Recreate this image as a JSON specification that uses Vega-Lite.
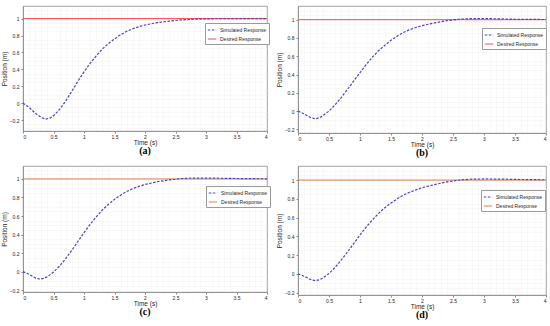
{
  "$schema": "https://vega.github.io/schema/vega-lite/v6.json",
  "autosize": "pad",
  "padding": {"left": 0, "top": 5, "right": 5, "bottom": 0},
  "background": "white",
  "config": {
    "font": "Liberation Sans",
    "view": {"stroke": "#8a8a8a", "strokeWidth": 0.8},
    "axis": {
      "labelFontSize": 5,
      "labelColor": "#262626",
      "titleFontSize": 6.5,
      "titleFontWeight": "normal",
      "titleColor": "#262626",
      "domainColor": "#8a8a8a",
      "domainWidth": 0.8,
      "tickColor": "#8a8a8a",
      "tickSize": 2,
      "gridColor": "#d6d6d6",
      "gridWidth": 0.6
    },
    "legend": {
      "orient": "none",
      "fillColor": "white",
      "strokeColor": "#9a9a9a",
      "padding": 2,
      "labelFontSize": 5,
      "labelColor": "#262626",
      "symbolType": "stroke",
      "symbolSize": 70,
      "symbolStrokeWidth": 1,
      "rowPadding": 1,
      "labelOffset": 3,
      "title": null
    },
    "title": {"font": "Liberation Serif", "fontSize": 10, "fontWeight": "bold", "color": "#000000"}
  },
  "data": {
    "values": [
      {"panel": "a", "series": "Desired Response", "t": 0, "y": 1},
      {"panel": "a", "series": "Desired Response", "t": 4, "y": 1},
      {"panel": "b", "series": "Desired Response", "t": 0, "y": 1},
      {"panel": "b", "series": "Desired Response", "t": 4, "y": 1},
      {"panel": "c", "series": "Desired Response", "t": 0, "y": 1},
      {"panel": "c", "series": "Desired Response", "t": 4, "y": 1},
      {"panel": "d", "series": "Desired Response", "t": 0, "y": 1},
      {"panel": "d", "series": "Desired Response", "t": 4, "y": 1},

      {"panel": "a", "series": "Simulated Response", "t": 0, "y": 0},
      {"panel": "a", "series": "Simulated Response", "t": 0.1, "y": -0.05},
      {"panel": "a", "series": "Simulated Response", "t": 0.2, "y": -0.12},
      {"panel": "a", "series": "Simulated Response", "t": 0.3, "y": -0.17},
      {"panel": "a", "series": "Simulated Response", "t": 0.37, "y": -0.19},
      {"panel": "a", "series": "Simulated Response", "t": 0.45, "y": -0.175},
      {"panel": "a", "series": "Simulated Response", "t": 0.5, "y": -0.15},
      {"panel": "a", "series": "Simulated Response", "t": 0.6, "y": -0.075},
      {"panel": "a", "series": "Simulated Response", "t": 0.7, "y": 0.025},
      {"panel": "a", "series": "Simulated Response", "t": 0.8, "y": 0.14},
      {"panel": "a", "series": "Simulated Response", "t": 0.9, "y": 0.26},
      {"panel": "a", "series": "Simulated Response", "t": 1.0, "y": 0.37},
      {"panel": "a", "series": "Simulated Response", "t": 1.1, "y": 0.47},
      {"panel": "a", "series": "Simulated Response", "t": 1.2, "y": 0.56},
      {"panel": "a", "series": "Simulated Response", "t": 1.3, "y": 0.64},
      {"panel": "a", "series": "Simulated Response", "t": 1.4, "y": 0.705},
      {"panel": "a", "series": "Simulated Response", "t": 1.5, "y": 0.76},
      {"panel": "a", "series": "Simulated Response", "t": 1.6, "y": 0.81},
      {"panel": "a", "series": "Simulated Response", "t": 1.7, "y": 0.85},
      {"panel": "a", "series": "Simulated Response", "t": 1.8, "y": 0.88},
      {"panel": "a", "series": "Simulated Response", "t": 1.9, "y": 0.905},
      {"panel": "a", "series": "Simulated Response", "t": 2.0, "y": 0.925},
      {"panel": "a", "series": "Simulated Response", "t": 2.2, "y": 0.953},
      {"panel": "a", "series": "Simulated Response", "t": 2.4, "y": 0.972},
      {"panel": "a", "series": "Simulated Response", "t": 2.6, "y": 0.985},
      {"panel": "a", "series": "Simulated Response", "t": 2.8, "y": 0.993},
      {"panel": "a", "series": "Simulated Response", "t": 3.0, "y": 0.998},
      {"panel": "a", "series": "Simulated Response", "t": 3.3, "y": 1.0},
      {"panel": "a", "series": "Simulated Response", "t": 3.6, "y": 1.0},
      {"panel": "a", "series": "Simulated Response", "t": 4.0, "y": 1.0},

      {"panel": "b", "series": "Simulated Response", "t": 0, "y": 0},
      {"panel": "b", "series": "Simulated Response", "t": 0.1, "y": -0.03},
      {"panel": "b", "series": "Simulated Response", "t": 0.2, "y": -0.07},
      {"panel": "b", "series": "Simulated Response", "t": 0.28, "y": -0.085},
      {"panel": "b", "series": "Simulated Response", "t": 0.35, "y": -0.072},
      {"panel": "b", "series": "Simulated Response", "t": 0.4, "y": -0.05},
      {"panel": "b", "series": "Simulated Response", "t": 0.5, "y": 0.0},
      {"panel": "b", "series": "Simulated Response", "t": 0.6, "y": 0.07},
      {"panel": "b", "series": "Simulated Response", "t": 0.7, "y": 0.15},
      {"panel": "b", "series": "Simulated Response", "t": 0.8, "y": 0.24},
      {"panel": "b", "series": "Simulated Response", "t": 0.9, "y": 0.33},
      {"panel": "b", "series": "Simulated Response", "t": 1.0, "y": 0.42},
      {"panel": "b", "series": "Simulated Response", "t": 1.1, "y": 0.51},
      {"panel": "b", "series": "Simulated Response", "t": 1.2, "y": 0.59},
      {"panel": "b", "series": "Simulated Response", "t": 1.3, "y": 0.66},
      {"panel": "b", "series": "Simulated Response", "t": 1.4, "y": 0.72},
      {"panel": "b", "series": "Simulated Response", "t": 1.5, "y": 0.775},
      {"panel": "b", "series": "Simulated Response", "t": 1.6, "y": 0.82},
      {"panel": "b", "series": "Simulated Response", "t": 1.7, "y": 0.86},
      {"panel": "b", "series": "Simulated Response", "t": 1.8, "y": 0.89},
      {"panel": "b", "series": "Simulated Response", "t": 1.9, "y": 0.915},
      {"panel": "b", "series": "Simulated Response", "t": 2.0, "y": 0.935},
      {"panel": "b", "series": "Simulated Response", "t": 2.2, "y": 0.965},
      {"panel": "b", "series": "Simulated Response", "t": 2.4, "y": 0.99},
      {"panel": "b", "series": "Simulated Response", "t": 2.6, "y": 1.005},
      {"panel": "b", "series": "Simulated Response", "t": 2.8, "y": 1.012},
      {"panel": "b", "series": "Simulated Response", "t": 3.0, "y": 1.013},
      {"panel": "b", "series": "Simulated Response", "t": 3.2, "y": 1.01},
      {"panel": "b", "series": "Simulated Response", "t": 3.5, "y": 1.005},
      {"panel": "b", "series": "Simulated Response", "t": 4.0, "y": 1.002},

      {"panel": "c", "series": "Simulated Response", "t": 0, "y": 0},
      {"panel": "c", "series": "Simulated Response", "t": 0.1, "y": -0.03},
      {"panel": "c", "series": "Simulated Response", "t": 0.2, "y": -0.068},
      {"panel": "c", "series": "Simulated Response", "t": 0.28, "y": -0.082},
      {"panel": "c", "series": "Simulated Response", "t": 0.35, "y": -0.072},
      {"panel": "c", "series": "Simulated Response", "t": 0.4, "y": -0.055},
      {"panel": "c", "series": "Simulated Response", "t": 0.5, "y": -0.005},
      {"panel": "c", "series": "Simulated Response", "t": 0.6, "y": 0.06},
      {"panel": "c", "series": "Simulated Response", "t": 0.7, "y": 0.14},
      {"panel": "c", "series": "Simulated Response", "t": 0.8, "y": 0.23},
      {"panel": "c", "series": "Simulated Response", "t": 0.9, "y": 0.325},
      {"panel": "c", "series": "Simulated Response", "t": 1.0, "y": 0.42},
      {"panel": "c", "series": "Simulated Response", "t": 1.1, "y": 0.51},
      {"panel": "c", "series": "Simulated Response", "t": 1.2, "y": 0.59},
      {"panel": "c", "series": "Simulated Response", "t": 1.3, "y": 0.665},
      {"panel": "c", "series": "Simulated Response", "t": 1.4, "y": 0.725},
      {"panel": "c", "series": "Simulated Response", "t": 1.5, "y": 0.78},
      {"panel": "c", "series": "Simulated Response", "t": 1.6, "y": 0.825},
      {"panel": "c", "series": "Simulated Response", "t": 1.7, "y": 0.865},
      {"panel": "c", "series": "Simulated Response", "t": 1.8, "y": 0.895},
      {"panel": "c", "series": "Simulated Response", "t": 1.9, "y": 0.92},
      {"panel": "c", "series": "Simulated Response", "t": 2.0, "y": 0.94},
      {"panel": "c", "series": "Simulated Response", "t": 2.2, "y": 0.97},
      {"panel": "c", "series": "Simulated Response", "t": 2.4, "y": 0.99},
      {"panel": "c", "series": "Simulated Response", "t": 2.6, "y": 1.005},
      {"panel": "c", "series": "Simulated Response", "t": 2.8, "y": 1.01},
      {"panel": "c", "series": "Simulated Response", "t": 3.0, "y": 1.01},
      {"panel": "c", "series": "Simulated Response", "t": 3.3, "y": 1.007},
      {"panel": "c", "series": "Simulated Response", "t": 3.6, "y": 1.004},
      {"panel": "c", "series": "Simulated Response", "t": 4.0, "y": 1.002},

      {"panel": "d", "series": "Simulated Response", "t": 0, "y": 0},
      {"panel": "d", "series": "Simulated Response", "t": 0.1, "y": -0.025},
      {"panel": "d", "series": "Simulated Response", "t": 0.2, "y": -0.06},
      {"panel": "d", "series": "Simulated Response", "t": 0.28, "y": -0.072},
      {"panel": "d", "series": "Simulated Response", "t": 0.35, "y": -0.062},
      {"panel": "d", "series": "Simulated Response", "t": 0.4, "y": -0.045},
      {"panel": "d", "series": "Simulated Response", "t": 0.5, "y": 0.005},
      {"panel": "d", "series": "Simulated Response", "t": 0.6, "y": 0.07},
      {"panel": "d", "series": "Simulated Response", "t": 0.7, "y": 0.15},
      {"panel": "d", "series": "Simulated Response", "t": 0.8, "y": 0.235},
      {"panel": "d", "series": "Simulated Response", "t": 0.9, "y": 0.325},
      {"panel": "d", "series": "Simulated Response", "t": 1.0, "y": 0.415},
      {"panel": "d", "series": "Simulated Response", "t": 1.1, "y": 0.5},
      {"panel": "d", "series": "Simulated Response", "t": 1.2, "y": 0.575},
      {"panel": "d", "series": "Simulated Response", "t": 1.3, "y": 0.645},
      {"panel": "d", "series": "Simulated Response", "t": 1.4, "y": 0.705},
      {"panel": "d", "series": "Simulated Response", "t": 1.5, "y": 0.755},
      {"panel": "d", "series": "Simulated Response", "t": 1.6, "y": 0.8},
      {"panel": "d", "series": "Simulated Response", "t": 1.7, "y": 0.84},
      {"panel": "d", "series": "Simulated Response", "t": 1.8, "y": 0.87},
      {"panel": "d", "series": "Simulated Response", "t": 1.9, "y": 0.895},
      {"panel": "d", "series": "Simulated Response", "t": 2.0, "y": 0.918},
      {"panel": "d", "series": "Simulated Response", "t": 2.2, "y": 0.952},
      {"panel": "d", "series": "Simulated Response", "t": 2.4, "y": 0.98},
      {"panel": "d", "series": "Simulated Response", "t": 2.6, "y": 1.0},
      {"panel": "d", "series": "Simulated Response", "t": 2.8, "y": 1.01},
      {"panel": "d", "series": "Simulated Response", "t": 3.0, "y": 1.012},
      {"panel": "d", "series": "Simulated Response", "t": 3.3, "y": 1.01},
      {"panel": "d", "series": "Simulated Response", "t": 3.6, "y": 1.006},
      {"panel": "d", "series": "Simulated Response", "t": 4.0, "y": 1.003}
    ]
  },
  "spacing": 7,
  "vconcat": [
    {
      "bounds": "flush",
      "spacing": 31,
      "resolve": {"scale": {"color": "independent", "strokeDash": "independent", "x": "independent", "y": "independent"}, "legend": {"color": "independent", "strokeDash": "independent"}},
      "hconcat": [
        {
          "width": 244, "height": 125,
          "title": {"text": "(a)", "orient": "bottom", "offset": 0},
          "transform": [{"filter": "datum.panel == 'a'"}],
          "resolve": {"axis": {"x": "independent", "y": "independent"}},
          "layer": [
            {
              "transform": [{"filter": "datum.series == 'Desired Response'"}],
              "mark": {"type": "line", "strokeWidth": 1},
              "encoding": {
                "x": {"field": "t", "type": "quantitative", "scale": {"domain": [0, 4], "nice": false},
                      "axis": {"orient": "top", "values": [0.1,0.2,0.3,0.4,0.6,0.7,0.8,0.9,1.1,1.2,1.3,1.4,1.6,1.7,1.8,1.9,2.1,2.2,2.3,2.4,2.6,2.7,2.8,2.9,3.1,3.2,3.3,3.4,3.6,3.7,3.8,3.9], "labels": false, "ticks": false, "domain": false, "title": null, "gridColor": "#e6e6e6", "gridDash": [1, 1], "gridWidth": 0.5}},
                "y": {"field": "y", "type": "quantitative", "scale": {"domain": [-0.33, 1.15], "nice": false, "zero": false},
                      "axis": {"orient": "right", "values": [-0.3,-0.25,-0.15,-0.1,-0.05,0.05,0.1,0.15,0.25,0.3,0.35,0.45,0.5,0.55,0.65,0.7,0.75,0.85,0.9,0.95,1.05,1.1], "labels": false, "ticks": false, "domain": false, "title": null, "gridColor": "#e6e6e6", "gridDash": [1, 1], "gridWidth": 0.5}},
                "color": {"field": "series", "type": "nominal", "scale": {"domain": ["Simulated Response", "Desired Response"], "range": ["#4343d0", "#ff3a3a"]}, "legend": {"legendX": 182, "legendY": 17}},
                "strokeDash": {"field": "series", "type": "nominal", "scale": {"domain": ["Simulated Response", "Desired Response"], "range": [[2.5, 1.5], [1, 0]]}, "legend": {"legendX": 182, "legendY": 17}}
              }
            },
            {
              "transform": [{"filter": "datum.series == 'Simulated Response'"}],
              "mark": {"type": "line", "strokeWidth": 1.2},
              "encoding": {
                "x": {"field": "t", "type": "quantitative", "scale": {"domain": [0, 4], "nice": false},
                      "axis": {"title": "Time (s)", "values": [0,0.5,1,1.5,2,2.5,3,3.5,4], "format": "~g", "labelPadding": 1, "titlePadding": 0}},
                "y": {"field": "y", "type": "quantitative", "scale": {"domain": [-0.33, 1.15], "nice": false, "zero": false},
                      "axis": {"title": "Position (m)", "values": [-0.2,0,0.2,0.4,0.6,0.8,1], "format": "~g", "labelPadding": 2, "titlePadding": 2}},
                "color": {"field": "series", "type": "nominal", "scale": {"domain": ["Simulated Response", "Desired Response"], "range": ["#4343d0", "#ff3a3a"]}, "legend": {"legendX": 182, "legendY": 17}},
                "strokeDash": {"field": "series", "type": "nominal", "scale": {"domain": ["Simulated Response", "Desired Response"], "range": [[2.5, 1.5], [1, 0]]}, "legend": {"legendX": 182, "legendY": 17}}
              }
            }
          ]
        },
        {
          "width": 248, "height": 127,
          "title": {"text": "(b)", "orient": "bottom", "offset": 0},
          "transform": [{"filter": "datum.panel == 'b'"}],
          "resolve": {"axis": {"x": "independent", "y": "independent"}},
          "layer": [
            {
              "transform": [{"filter": "datum.series == 'Desired Response'"}],
              "mark": {"type": "line", "strokeWidth": 1},
              "encoding": {
                "x": {"field": "t", "type": "quantitative", "scale": {"domain": [0, 4], "nice": false},
                      "axis": {"orient": "top", "values": [0.1,0.2,0.3,0.4,0.6,0.7,0.8,0.9,1.1,1.2,1.3,1.4,1.6,1.7,1.8,1.9,2.1,2.2,2.3,2.4,2.6,2.7,2.8,2.9,3.1,3.2,3.3,3.4,3.6,3.7,3.8,3.9], "labels": false, "ticks": false, "domain": false, "title": null, "gridColor": "#e6e6e6", "gridDash": [1, 1], "gridWidth": 0.5}},
                "y": {"field": "y", "type": "quantitative", "scale": {"domain": [-0.24, 1.15], "nice": false, "zero": false},
                      "axis": {"orient": "right", "values": [-0.15,-0.1,-0.05,0.05,0.1,0.15,0.25,0.3,0.35,0.45,0.5,0.55,0.65,0.7,0.75,0.85,0.9,0.95,1.05,1.1], "labels": false, "ticks": false, "domain": false, "title": null, "gridColor": "#e6e6e6", "gridDash": [1, 1], "gridWidth": 0.5}},
                "color": {"field": "series", "type": "nominal", "scale": {"domain": ["Simulated Response", "Desired Response"], "range": ["#4343d0", "#ff3d66"]}, "legend": {"legendX": 184, "legendY": 22}},
                "strokeDash": {"field": "series", "type": "nominal", "scale": {"domain": ["Simulated Response", "Desired Response"], "range": [[2.5, 1.5], [1, 0]]}, "legend": {"legendX": 184, "legendY": 22}}
              }
            },
            {
              "transform": [{"filter": "datum.series == 'Simulated Response'"}],
              "mark": {"type": "line", "strokeWidth": 1.2},
              "encoding": {
                "x": {"field": "t", "type": "quantitative", "scale": {"domain": [0, 4], "nice": false},
                      "axis": {"title": "Time (s)", "values": [0,0.5,1,1.5,2,2.5,3,3.5,4], "format": "~g", "labelPadding": 1, "titlePadding": 0}},
                "y": {"field": "y", "type": "quantitative", "scale": {"domain": [-0.24, 1.15], "nice": false, "zero": false},
                      "axis": {"title": "Position (m)", "values": [-0.2,0,0.2,0.4,0.6,0.8,1], "format": "~g", "labelPadding": 2, "titlePadding": 2}},
                "color": {"field": "series", "type": "nominal", "scale": {"domain": ["Simulated Response", "Desired Response"], "range": ["#4343d0", "#ff3d66"]}, "legend": {"legendX": 184, "legendY": 22}},
                "strokeDash": {"field": "series", "type": "nominal", "scale": {"domain": ["Simulated Response", "Desired Response"], "range": [[2.5, 1.5], [1, 0]]}, "legend": {"legendX": 184, "legendY": 22}}
              }
            }
          ]
        }
      ]
    },
    {
      "bounds": "flush",
      "spacing": 31,
      "resolve": {"scale": {"color": "independent", "strokeDash": "independent", "x": "independent", "y": "independent"}, "legend": {"color": "independent", "strokeDash": "independent"}},
      "hconcat": [
        {
          "width": 244, "height": 126,
          "title": {"text": "(c)", "orient": "bottom", "offset": 0},
          "transform": [{"filter": "datum.panel == 'c'"}],
          "resolve": {"axis": {"x": "independent", "y": "independent"}},
          "layer": [
            {
              "transform": [{"filter": "datum.series == 'Desired Response'"}],
              "mark": {"type": "line", "strokeWidth": 1},
              "encoding": {
                "x": {"field": "t", "type": "quantitative", "scale": {"domain": [0, 4], "nice": false},
                      "axis": {"orient": "top", "values": [0.1,0.2,0.3,0.4,0.6,0.7,0.8,0.9,1.1,1.2,1.3,1.4,1.6,1.7,1.8,1.9,2.1,2.2,2.3,2.4,2.6,2.7,2.8,2.9,3.1,3.2,3.3,3.4,3.6,3.7,3.8,3.9], "labels": false, "ticks": false, "domain": false, "title": null, "gridColor": "#e6e6e6", "gridDash": [1, 1], "gridWidth": 0.5}},
                "y": {"field": "y", "type": "quantitative", "scale": {"domain": [-0.22, 1.14], "nice": false, "zero": false},
                      "axis": {"orient": "right", "values": [-0.15,-0.1,-0.05,0.05,0.1,0.15,0.25,0.3,0.35,0.45,0.5,0.55,0.65,0.7,0.75,0.85,0.9,0.95,1.05,1.1], "labels": false, "ticks": false, "domain": false, "title": null, "gridColor": "#e6e6e6", "gridDash": [1, 1], "gridWidth": 0.5}},
                "color": {"field": "series", "type": "nominal", "scale": {"domain": ["Simulated Response", "Desired Response"], "range": ["#4343d0", "#d9773f"]}, "legend": {"legendX": 183, "legendY": 20}},
                "strokeDash": {"field": "series", "type": "nominal", "scale": {"domain": ["Simulated Response", "Desired Response"], "range": [[2.5, 1.5], [1, 0]]}, "legend": {"legendX": 183, "legendY": 20}}
              }
            },
            {
              "transform": [{"filter": "datum.series == 'Simulated Response'"}],
              "mark": {"type": "line", "strokeWidth": 1.2},
              "encoding": {
                "x": {"field": "t", "type": "quantitative", "scale": {"domain": [0, 4], "nice": false},
                      "axis": {"title": "Time (s)", "values": [0,0.5,1,1.5,2,2.5,3,3.5,4], "format": "~g", "labelPadding": 1, "titlePadding": 0}},
                "y": {"field": "y", "type": "quantitative", "scale": {"domain": [-0.22, 1.14], "nice": false, "zero": false},
                      "axis": {"title": "Position (m)", "values": [-0.2,0,0.2,0.4,0.6,0.8,1], "format": "~g", "labelPadding": 2, "titlePadding": 2}},
                "color": {"field": "series", "type": "nominal", "scale": {"domain": ["Simulated Response", "Desired Response"], "range": ["#4343d0", "#d9773f"]}, "legend": {"legendX": 183, "legendY": 20}},
                "strokeDash": {"field": "series", "type": "nominal", "scale": {"domain": ["Simulated Response", "Desired Response"], "range": [[2.5, 1.5], [1, 0]]}, "legend": {"legendX": 183, "legendY": 20}}
              }
            }
          ]
        },
        {
          "width": 248, "height": 129,
          "title": {"text": "(d)", "orient": "bottom", "offset": 0},
          "transform": [{"filter": "datum.panel == 'd'"}],
          "resolve": {"axis": {"x": "independent", "y": "independent"}},
          "layer": [
            {
              "transform": [{"filter": "datum.series == 'Desired Response'"}],
              "mark": {"type": "line", "strokeWidth": 1},
              "encoding": {
                "x": {"field": "t", "type": "quantitative", "scale": {"domain": [0, 4], "nice": false},
                      "axis": {"orient": "top", "values": [0.1,0.2,0.3,0.4,0.6,0.7,0.8,0.9,1.1,1.2,1.3,1.4,1.6,1.7,1.8,1.9,2.1,2.2,2.3,2.4,2.6,2.7,2.8,2.9,3.1,3.2,3.3,3.4,3.6,3.7,3.8,3.9], "labels": false, "ticks": false, "domain": false, "title": null, "gridColor": "#e6e6e6", "gridDash": [1, 1], "gridWidth": 0.5}},
                "y": {"field": "y", "type": "quantitative", "scale": {"domain": [-0.225, 1.15], "nice": false, "zero": false},
                      "axis": {"orient": "right", "values": [-0.15,-0.1,-0.05,0.05,0.1,0.15,0.25,0.3,0.35,0.45,0.5,0.55,0.65,0.7,0.75,0.85,0.9,0.95,1.05,1.1], "labels": false, "ticks": false, "domain": false, "title": null, "gridColor": "#e6e6e6", "gridDash": [1, 1], "gridWidth": 0.5}},
                "color": {"field": "series", "type": "nominal", "scale": {"domain": ["Simulated Response", "Desired Response"], "range": ["#4343d0", "#d9773f"]}, "legend": {"legendX": 183, "legendY": 24}},
                "strokeDash": {"field": "series", "type": "nominal", "scale": {"domain": ["Simulated Response", "Desired Response"], "range": [[2.5, 1.5], [1, 0]]}, "legend": {"legendX": 183, "legendY": 24}}
              }
            },
            {
              "transform": [{"filter": "datum.series == 'Simulated Response'"}],
              "mark": {"type": "line", "strokeWidth": 1.2},
              "encoding": {
                "x": {"field": "t", "type": "quantitative", "scale": {"domain": [0, 4], "nice": false},
                      "axis": {"title": "Time (s)", "values": [0,0.5,1,1.5,2,2.5,3,3.5,4], "format": "~g", "labelPadding": 1, "titlePadding": 0}},
                "y": {"field": "y", "type": "quantitative", "scale": {"domain": [-0.225, 1.15], "nice": false, "zero": false},
                      "axis": {"title": "Position (m)", "values": [-0.2,0,0.2,0.4,0.6,0.8,1], "format": "~g", "labelPadding": 2, "titlePadding": 2}},
                "color": {"field": "series", "type": "nominal", "scale": {"domain": ["Simulated Response", "Desired Response"], "range": ["#4343d0", "#d9773f"]}, "legend": {"legendX": 183, "legendY": 24}},
                "strokeDash": {"field": "series", "type": "nominal", "scale": {"domain": ["Simulated Response", "Desired Response"], "range": [[2.5, 1.5], [1, 0]]}, "legend": {"legendX": 183, "legendY": 24}}
              }
            }
          ]
        }
      ]
    }
  ]
}
